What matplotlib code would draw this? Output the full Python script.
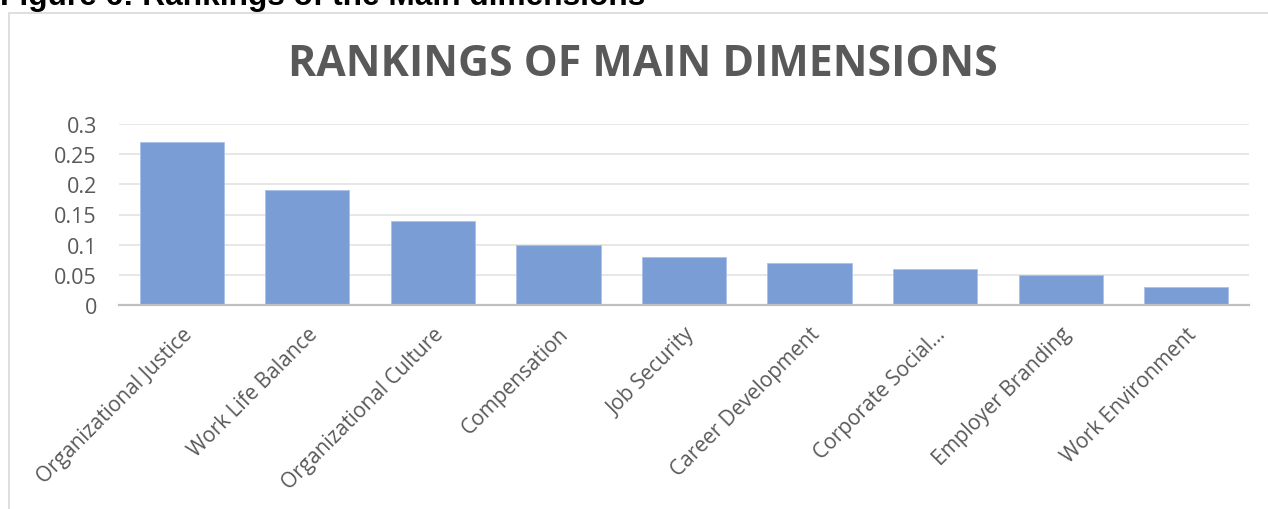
import matplotlib
matplotlib.use("Agg")
import matplotlib.pyplot as plt
from matplotlib.patches import Rectangle

categories = ["Organizational Justice", "Work Life Balance", "Organizational Culture",
              "Compensation", "Job Security", "Career Development",
              "Corporate Social...", "Employer Branding", "Work Environment"]
values = [0.27, 0.19, 0.14, 0.10, 0.08, 0.07, 0.06, 0.05, 0.03]
yticks = [0, 0.05, 0.1, 0.15, 0.2, 0.25, 0.3]
ytick_labels = ["0", "0.05", "0.1", "0.15", "0.2", "0.25", "0.3"]

W, H = 1268, 510
fig = plt.figure(figsize=(W / 100, H / 100), dpi=100)
fig.patch.set_facecolor("white")

# chart frame (only top and left edge visible in the crop)
fig.add_artist(Rectangle((8.5 / W, -0.1), 1.2, 1 - 13.5 / H + 0.1, transform=fig.transFigure,
                         fill=False, edgecolor="#D9D9D9", lw=1.2))

# caption above the frame, cut off by the top edge as in the source
fig.text(0 / W, 1 - 5 / H, "Figure 6: Rankings of the Main dimensions", fontsize=22.8,
         fontweight="bold", family="Liberation Sans", color="black", va="baseline", ha="left")

ax = fig.add_axes([119 / W, 1 - 306 / H, (1249 - 119) / W, (306 - 125) / H])
ax.bar(range(len(values)), values, width=0.67, color="#7B9DD6", edgecolor="#A9C1E8", lw=0.6, zorder=3)
ax.set_xlim(-0.5, len(values) - 0.5)
ax.set_ylim(0, 0.3)
ax.set_yticks(yticks)
ax.set_yticklabels(ytick_labels, family="Open Sans", fontsize=15.5, color="#595959")
ax.set_xticks(range(len(values)))
ax.set_xticklabels(categories, rotation=45, ha="right", rotation_mode="anchor",
                   family="Open Sans", fontsize=15, color="#595959")
ax.tick_params(axis="both", length=0)
ax.tick_params(axis="x", pad=13)
ax.tick_params(axis="y", pad=16)
ax.grid(axis="y", color="#E3E3E3", lw=1.2, zorder=0)
for s in ["top", "right", "left"]:
    ax.spines[s].set_visible(False)
ax.spines["bottom"].set_color("#BFBFBF")
ax.spines["bottom"].set_linewidth(1.6)
ax.spines["bottom"].set_zorder(4)

fig.text(643 / W, 1 - 65 / H, "RANKINGS OF MAIN DIMENSIONS", fontsize=30.8, fontweight="bold",
         family="Open Sans", color="#595959", ha="center", va="center")

fig.savefig("out.png", dpi=100)
